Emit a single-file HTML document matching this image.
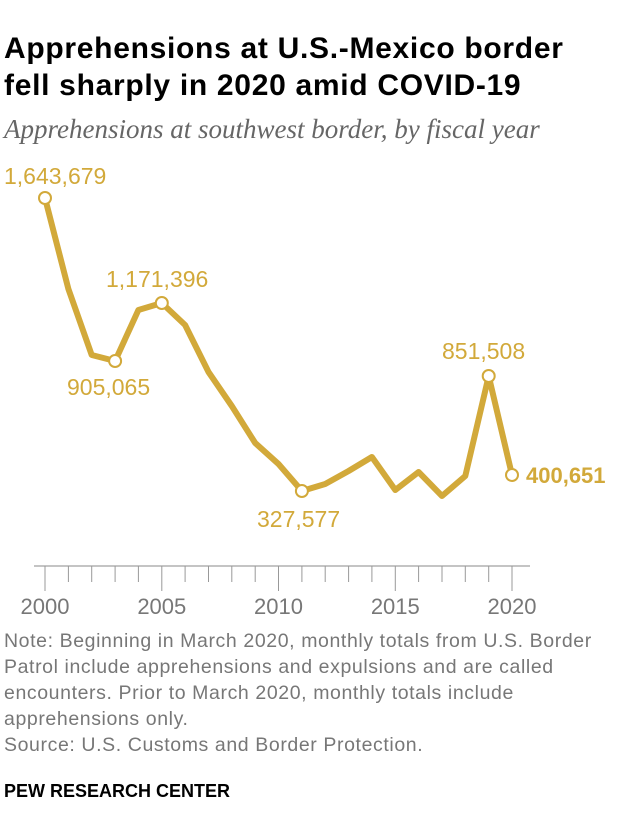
<!DOCTYPE html>
<html><head><meta charset="utf-8"><style>
body{margin:0;background:#fff;width:620px;height:836px;overflow:hidden;font-family:"Liberation Sans",sans-serif}
.t{position:absolute;left:4px;top:30px;font-size:30px;font-weight:bold;line-height:37px;color:#000;letter-spacing:0.7px;white-space:nowrap}
.s{position:absolute;left:4px;top:114px;font-family:"Liberation Serif",serif;font-style:italic;font-size:27px;color:#666;white-space:nowrap}
.n{position:absolute;left:4px;top:628px;font-size:19.5px;line-height:26px;color:#777;letter-spacing:0.6px;white-space:nowrap}
.p{position:absolute;left:4px;top:781px;font-size:18px;font-weight:bold;color:#000}
</style></head><body>
<div class="t">Apprehensions at U.S.-Mexico border<br>fell sharply in 2020 amid COVID-19</div>
<div class="s">Apprehensions at southwest border, by fiscal year</div>
<svg width="620" height="836" style="position:absolute;left:0;top:0" font-family="Liberation Sans, sans-serif">
<line x1="34" y1="566" x2="530" y2="566" stroke="#888" stroke-width="1"/>
<g stroke="#999" stroke-width="1">
<line x1="45" y1="566" x2="45" y2="591"/><line x1="68.4" y1="566" x2="68.4" y2="582"/><line x1="91.7" y1="566" x2="91.7" y2="582"/><line x1="115.1" y1="566" x2="115.1" y2="582"/><line x1="138.4" y1="566" x2="138.4" y2="582"/><line x1="161.8" y1="566" x2="161.8" y2="591"/><line x1="185.1" y1="566" x2="185.1" y2="582"/><line x1="208.5" y1="566" x2="208.5" y2="582"/><line x1="231.8" y1="566" x2="231.8" y2="582"/><line x1="255.2" y1="566" x2="255.2" y2="582"/><line x1="278.5" y1="566" x2="278.5" y2="591"/><line x1="301.9" y1="566" x2="301.9" y2="582"/><line x1="325.2" y1="566" x2="325.2" y2="582"/><line x1="348.6" y1="566" x2="348.6" y2="582"/><line x1="371.9" y1="566" x2="371.9" y2="582"/><line x1="395.3" y1="566" x2="395.3" y2="591"/><line x1="418.6" y1="566" x2="418.6" y2="582"/><line x1="442" y1="566" x2="442" y2="582"/><line x1="465.3" y1="566" x2="465.3" y2="582"/><line x1="488.7" y1="566" x2="488.7" y2="582"/><line x1="512" y1="566" x2="512" y2="591"/>
</g>
<g fill="#777" font-size="22" text-anchor="middle">
<text x="45" y="614">2000</text><text x="161.8" y="614">2005</text><text x="278.5" y="614">2010</text><text x="395.3" y="614">2015</text><text x="512" y="614">2020</text>
</g>
<polyline fill="none" stroke="#d2a93a" stroke-width="6" stroke-linejoin="round" points="45,198 68.4,289 91.7,355 115.1,361 138.4,310 161.8,303 185.1,325 208.5,372 231.8,406 255.2,443 278.5,464 301.9,491 325.2,484 348.6,471 371.9,457 395.3,490 418.6,472 442,496 465.3,476 488.7,376 512,475"/>
<g fill="#fff" stroke="#d2a93a" stroke-width="2">
<circle cx="45" cy="198" r="6"/><circle cx="115.1" cy="361" r="6"/><circle cx="161.8" cy="303" r="6"/><circle cx="301.9" cy="491" r="6"/><circle cx="488.7" cy="376" r="6"/><circle cx="512" cy="475" r="6"/>
</g>
<g fill="#d2a93a" font-size="23">
<text x="4" y="184">1,643,679</text>
<text x="67" y="395">905,065</text>
<text x="106" y="287">1,171,396</text>
<text x="257" y="527">327,577</text>
<text x="442" y="359">851,508</text>
<text x="526" y="483" font-weight="bold" font-size="22">400,651</text>
</g>
</svg>
<div class="n">Note: Beginning in March 2020, monthly totals from U.S. Border<br>Patrol include apprehensions and expulsions and are called<br>encounters. Prior to March 2020, monthly totals include<br>apprehensions only.<br>Source: U.S. Customs and Border Protection.</div>
<div class="p">PEW RESEARCH CENTER</div>
</body></html>
